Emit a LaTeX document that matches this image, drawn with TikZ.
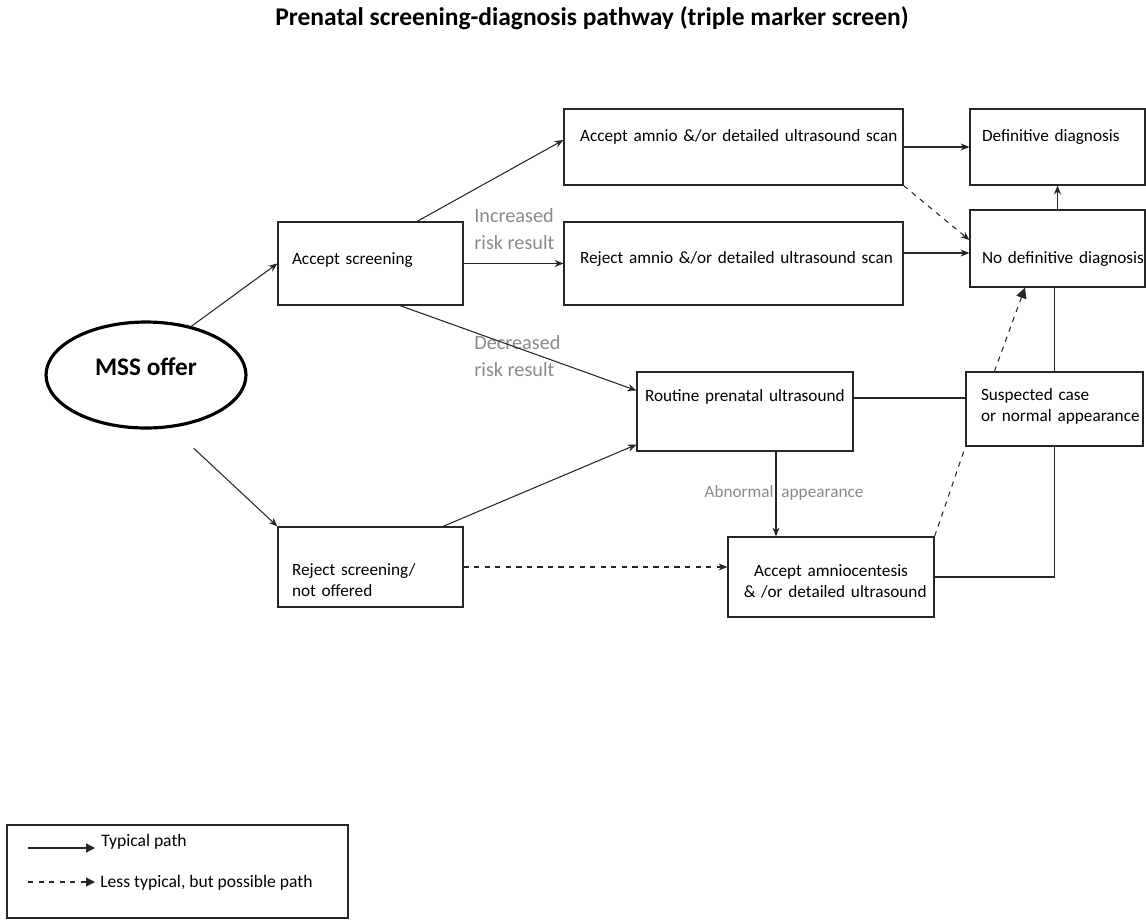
\documentclass[tikz,border=0pt]{standalone}
\usepackage{fontspec}
\setmainfont{Carlito}
\usetikzlibrary{arrows.meta,positioning,calc,shapes.geometric}
\definecolor{riskgray}{HTML}{8A8A8A}
\definecolor{linedark}{HTML}{262626}

\begin{document}
\begin{tikzpicture}[x=0.02cm, y=-0.02cm, font=\fontsize{9.8}{12}\selectfont, >={Stealth[length=5pt,width=4pt]},
  stepbox/.style={draw=linedark, line width=0.7pt, rectangle, inner xsep=0.28cm, inner ysep=0pt, align=left},
  flow/.style={->, draw=linedark, line width=0.6pt},
  maybe/.style={->, draw=linedark, line width=0.6pt, dashed},
  plain/.style={draw=linedark, line width=0.6pt},
  risk/.style={text=riskgray, align=left, anchor=west, inner sep=0pt, font=\fontsize{11.5}{15}\selectfont}]
  \useasboundingbox (0,0) rectangle (1146,920);

  % title
  \node[font=\fontsize{14.5}{17}\selectfont\bfseries] (title) at (592,18) {Prenatal screening-diagnosis pathway (triple marker screen)};

  % boxes
  \node[ellipse, draw=black, line width=1.8pt, minimum width=4cm, minimum height=2.12cm, text depth=9pt, font=\fontsize{14.4}{16}\selectfont\bfseries] (mss) at (146,375) {MSS offer};
  \node[stepbox, minimum height=1.66cm, text width=3.14cm, text depth=6pt] (accscr) at (370.5,263.5) {Accept screening};
  \node[stepbox, minimum height=1.6cm, text width=3.14cm, text height=22pt] (rejscr) at (370.5,567) {Reject screening/\\not offered};
  \node[stepbox, minimum height=1.52cm, inner xsep=0.32cm, text width=6.14cm, text depth=13.2pt] (accamn) at (733.5,147) {\mbox{Accept amnio \&/or detailed ultrasound scan}};
  \node[stepbox, minimum height=1.66cm, inner xsep=0.32cm, text width=6.14cm, text depth=7pt] (rejamn) at (733.5,263.5) {\mbox{Reject amnio \&/or detailed ultrasound scan}};
  \node[stepbox, minimum height=1.52cm, inner xsep=0.24cm, text width=3.02cm, text depth=13.2pt] (defdiag) at (1057.5,147) {Definitive diagnosis};
  \node[stepbox, minimum height=1.54cm, inner xsep=0.24cm, text width=3.02cm, text height=19pt] (nodiag) at (1057.5,248.5) {\mbox{No definitive diagnosis}};
  \node[stepbox, minimum height=1.58cm, inner xsep=0.16cm, text width=4cm, text depth=18pt] (routine) at (745,411.5) {\mbox{Routine prenatal ultrasound}};
  \node[stepbox, minimum height=1.48cm, inner xsep=0.3cm, text width=2.94cm, text depth=17pt] (suspect) at (1054.5,409) {Suspected case\\\mbox{or normal appearance}};
  \node[stepbox, minimum height=1.6cm, inner xsep=0.2cm, text width=3.72cm, text height=11.5pt, align=center] (accamc) at (831,577) {Accept amniocentesis\\\mbox{\ \& /or detailed ultrasound}};

  % labels on the paths
  \node[risk] (incr) at (474,229) {Increased\\risk result};
  \node[risk] (decr) at (474,356) {Decreased\\risk result};
  \node[text=riskgray] (abn) at (784,493) {Abnormal\ \ appearance};

  % typical paths
  \draw[flow] (mss.47) -- (accscr.west);
  \draw[flow, shorten <=0.6cm] (mss.-64) -- (rejscr.north west);
  \draw[flow] ($(accscr.north)!0.5!(accscr.north east)$) -- ([yshift=0.14cm]accamn.west);
  \draw[flow] (accscr.east) -- (rejamn.west);
  \draw[flow] ([xshift=0.59cm]accscr.south) -- ([yshift=0.42cm]routine.west);
  \draw[flow] ([xshift=1.45cm]rejscr.north) -- ([yshift=0.14cm]routine.south west);
  \draw[flow] ([xshift=0.62cm]routine.south) -- ([xshift=0.62cm]routine.south |- accamc.north);
  \draw[flow] (accamn.east) -- (defdiag.west);
  \draw[flow] ([yshift=0.21cm]rejamn.east) -- ([yshift=0.21cm]rejamn.east -| nodiag.west);
  \draw[flow] (nodiag.north) -- (defdiag.south);
  \draw[plain] ([yshift=0.27cm]routine.east) -- ([yshift=0.27cm]routine.east -| suspect.west);
  \draw[plain] (suspect.north) -- (suspect.north |- nodiag.south);
  \draw[plain] (accamc.east) -| (suspect.south);

  % less typical paths
  \draw[maybe] (rejscr.east) -- (rejscr.east -| accamc.west);
  \draw[maybe] (accamn.south east) -- ([yshift=0.17cm]nodiag.west);
  \draw[maybe, >={Triangle[length=6pt,width=6pt]}] ([xshift=0.58cm]suspect.north west) -- ([xshift=-0.65cm]nodiag.south);
  \draw[plain, dashed] (accamc.north east) -- (suspect.south west);

  % legend
  \node[draw=linedark, line width=0.7pt, minimum width=6.82cm, minimum height=1.86cm] (legend) at (177.5,871.5) {};
  \coordinate (typa) at (28,848);
  \coordinate (typb) at (95,848);
  \coordinate (lessa) at (28,882);
  \coordinate (lessb) at (95,882);
  \draw[flow, >={Triangle[length=5pt,width=5pt]}] (typa) -- (typb);
  \draw[maybe, >={Triangle[length=5pt,width=5pt]}] (lessa) -- (lessb);
  \node[anchor=west, inner sep=0pt, font=\fontsize{10}{12}\selectfont] (typtext) at (101,842) {Typical path};
  \node[anchor=west, inner sep=0pt, font=\fontsize{10}{12}\selectfont] (lesstext) at (100,883) {Less typical, but possible path};
\end{tikzpicture}
\end{document}
